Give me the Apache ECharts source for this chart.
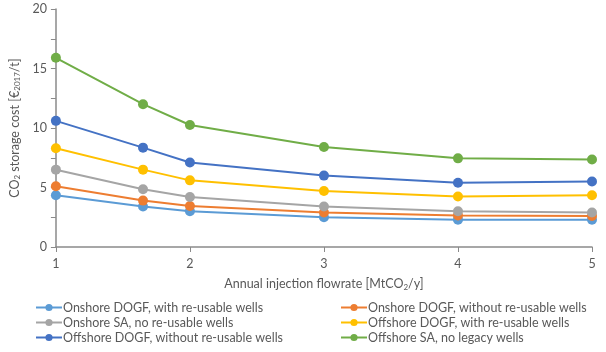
<!DOCTYPE html>
<html>
<head>
<meta charset="utf-8">
<script src="https://cdn.jsdelivr.net/npm/echarts@6/dist/echarts.min.js"></script>
<style>
  html, body { margin: 0; padding: 0; background: #fff; }
  #chart { width: 606px; height: 352px; }
</style>
</head>
<body>
<div id="chart"></div>
<script>
// annual injection flowrate [MtCO2/y]
const flowrates = [1, 1.65, 2, 3, 4, 5]

const seriesNames = [
  'Onshore DOGF, with re-usable wells',
  'Onshore DOGF, without re-usable wells',
  'Onshore SA, no re-usable wells',
  'Offshore DOGF, with re-usable wells',
  'Offshore DOGF, without re-usable wells',
  'Offshore SA, no legacy wells'
]

// storage cost [€2017/t]
const onshoreDogfReuse = [4.35, 3.4, 3.0, 2.5, 2.3, 2.3]
const onshoreDogfNoReuse = [5.1, 3.9, 3.45, 2.9, 2.65, 2.6]
const onshoreSa = [6.5, 4.85, 4.2, 3.4, 3.0, 2.9]
const offshoreDogfReuse = [8.3, 6.5, 5.6, 4.7, 4.25, 4.35]
const offshoreDogfNoReuse = [10.6, 8.35, 7.1, 6.0, 5.4, 5.5]
const offshoreSa = [15.9, 12.0, 10.25, 8.4, 7.45, 7.35]

const seriesValues = [onshoreDogfReuse, onshoreDogfNoReuse, onshoreSa,
  offshoreDogfReuse, offshoreDogfNoReuse, offshoreSa]
const colors = ['#5B9BD5', '#ED7D31', '#A5A5A5', '#FFC000', '#4472C4', '#70AD47']

const font = 'Lato, "Open Sans", sans-serif'
const textColor = '#595959'
const axisColor = '#8a8a8a'

const chart = echarts.init(document.getElementById('chart'))

const legendBase = {
  orient: 'vertical',
  top: 301,
  itemGap: 2,
  itemWidth: 26,
  itemHeight: 9,
  padding: 0,
  textStyle: { fontFamily: font, fontSize: 12.5, color: textColor, padding: [0, 0, 0, -4] }
}

chart.setOption({
  animation: false,
  color: colors,
  grid: { left: 49, right: 14, top: 9, bottom: 105 },
  legend: [
    Object.assign({}, legendBase, { left: 35, data: [seriesNames[0], seriesNames[2], seriesNames[4]] }),
    Object.assign({}, legendBase, { left: 340, data: [seriesNames[1], seriesNames[3], seriesNames[5]] })
  ],
  xAxis: {
    type: 'value',
    min: 1,
    max: 5,
    interval: 1,
    name: 'Annual injection flowrate [MtCO{sub|2}/y]',
    nameLocation: 'middle',
    nameGap: 30,
    nameTextStyle: {
      fontFamily: font, fontSize: 12.5, color: textColor,
      rich: { sub: { fontFamily: font, fontSize: 8, color: textColor, verticalAlign: 'bottom', padding: [6, 0, 0, 0] } }
    },
    axisLine: { show: true, lineStyle: { color: axisColor, width: 1.5 } },
    axisTick: { show: true, length: 5, lineStyle: { color: axisColor } },
    axisLabel: { fontFamily: font, fontSize: 12.5, color: textColor, margin: 10 },
    splitLine: { show: false }
  },
  yAxis: {
    type: 'value',
    min: 0,
    max: 20,
    interval: 5,
    name: 'CO{sub|2} storage cost [€{sub|2017}/t]',
    nameLocation: 'middle',
    nameGap: 30,
    nameRotate: 90,
    nameTextStyle: {
      fontFamily: font, fontSize: 12.5, color: textColor,
      rich: { sub: { fontFamily: font, fontSize: 8, color: textColor, verticalAlign: 'bottom', padding: [6, 0, 0, 0] } }
    },
    axisLine: { show: true, lineStyle: { color: axisColor, width: 1.5 } },
    axisTick: { show: true, length: 5, lineStyle: { color: axisColor } },
    minorTick: { show: true, splitNumber: 2, length: 5, lineStyle: { color: axisColor } },
    axisLabel: { fontFamily: font, fontSize: 12.5, color: textColor, margin: 9 },
    splitLine: { show: false }
  },
  series: seriesNames.map((name, i) => ({
    name: name,
    type: 'line',
    data: flowrates.map((x, j) => [x, seriesValues[i][j]]),
    symbol: 'circle',
    symbolSize: 10,
    lineStyle: { width: 2, color: colors[i] },
    itemStyle: { color: colors[i] }
  }))
})
</script>
</body>
</html>
